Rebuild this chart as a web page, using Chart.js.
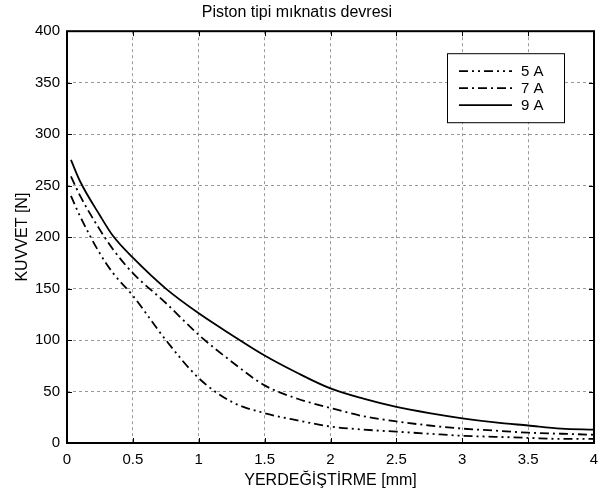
<!DOCTYPE html>
<html>
<head>
<meta charset="utf-8">
<script src="https://cdn.jsdelivr.net/npm/chart.js@4"></script>
<style>
  body { margin: 0; background: #fff; }
  canvas { display: block; }
</style>
</head>
<body>
<canvas id="forceChart" width="614" height="494"></canvas>
<script>
// displacement in mm
const displacement = [0.03, 0.1, 0.25, 0.35, 0.5, 0.75, 1, 1.25, 1.5, 1.75, 2, 2.25, 2.5, 2.75, 3, 3.25, 3.5, 3.75, 4];
// force in N for each current
const force5A = [240, 220, 184, 165, 143, 100, 63, 40, 29, 22, 16, 13, 11, 9, 7, 6, 5, 4, 4];
const force7A = [259, 240, 207, 188, 165, 136, 105, 79, 56, 43, 34, 26, 21, 17, 14, 12, 10, 9, 8];
const force9A = [275, 254, 221, 201, 180, 150, 126, 105, 85, 68, 53, 43, 35, 29, 24, 20, 17, 14, 13];
const seriesLabels = ['5 A', '7 A', '9 A'];

const FONT = 'Arial, "Liberation Sans", sans-serif';

function toPoints(ys) {
    return displacement.map(function(x, i) { return { x: x, y: ys[i] }; });
}

// frame, inward tick marks and a legend box inside the plot
const framePlugin = {
    id: 'frame',
    afterDraw: function(chart) {
        const ctx = chart.ctx;
        const a = chart.chartArea;
        const xs = chart.scales.x;
        const ys = chart.scales.y;
        ctx.save();
        ctx.strokeStyle = '#000';
        ctx.lineWidth = 1;
        xs.ticks.forEach(function(t) {
            const px = Math.round(xs.getPixelForValue(t.value)) + 0.5;
            ctx.beginPath();
            ctx.moveTo(px, a.bottom); ctx.lineTo(px, a.bottom - 5);
            ctx.moveTo(px, a.top); ctx.lineTo(px, a.top + 5);
            ctx.stroke();
        });
        ys.ticks.forEach(function(t) {
            const py = Math.round(ys.getPixelForValue(t.value)) + 0.5;
            ctx.beginPath();
            ctx.moveTo(a.left, py); ctx.lineTo(a.left + 5, py);
            ctx.moveTo(a.right, py); ctx.lineTo(a.right - 5, py);
            ctx.stroke();
        });
        ctx.lineWidth = 2;
        ctx.strokeRect(a.left, a.top, a.right - a.left, a.bottom - a.top);

        // legend
        const bx = a.right - 147, by = a.top + 22, bw = 117, bh = 69;
        ctx.fillStyle = '#fff';
        ctx.fillRect(bx, by, bw, bh);
        ctx.lineWidth = 1;
        ctx.strokeRect(bx + 0.5, by + 0.5, bw, bh);
        ctx.font = '15px ' + FONT;
        ctx.textBaseline = 'middle';
        chart.data.datasets.forEach(function(ds, i) {
            const ry = by + 18 + i * 17;
            ctx.strokeStyle = '#000';
            ctx.lineWidth = ds.borderWidth;
            ctx.setLineDash(ds.borderDash || []);
            ctx.beginPath();
            ctx.moveTo(bx + 12, ry); ctx.lineTo(bx + 65, ry);
            ctx.stroke();
            ctx.setLineDash([]);
            ctx.fillStyle = '#000';
            ctx.fillText(ds.label, bx + 74, ry + 1);
        });
        ctx.restore();
    }
};

new Chart(document.getElementById('forceChart'), {
    type: 'line',
    data: {
        datasets: [{
            label: seriesLabels[0],
            data: toPoints(force5A),
            borderColor: '#000',
            borderWidth: 1.8,
            borderDash: [9, 4, 2, 4, 2, 4],
            pointRadius: 0,
            cubicInterpolationMode: 'monotone'
        }, {
            label: seriesLabels[1],
            data: toPoints(force7A),
            borderColor: '#000',
            borderWidth: 1.8,
            borderDash: [9, 4, 2, 4],
            pointRadius: 0,
            cubicInterpolationMode: 'monotone'
        }, {
            label: seriesLabels[2],
            data: toPoints(force9A),
            borderColor: '#000',
            borderWidth: 1.8,
            pointRadius: 0,
            cubicInterpolationMode: 'monotone'
        }]
    },
    options: {
        responsive: false,
        animation: false,
        layout: { padding: { left: 0, right: 20, top: 0, bottom: 0 } },
        plugins: {
            legend: { display: false },
            tooltip: { enabled: false },
            title: {
                display: true,
                text: 'Piston tipi mıknatıs devresi',
                color: '#000',
                font: { family: FONT, size: 16, weight: 'normal' },
                padding: { top: 3, bottom: 9 }
            }
        },
        scales: {
            x: {
                type: 'linear',
                min: 0,
                max: 4,
                ticks: {
                    stepSize: 0.5,
                    color: '#000',
                    padding: 8,
                    maxRotation: 0,
                    font: { family: FONT, size: 15 },
                    callback: function(value) { return String(value); }
                },
                grid: { color: '#999', drawTicks: false },
                border: { display: false, dash: [3, 3] },
                title: {
                    display: true,
                    text: 'YERDEĞİŞTİRME [mm]',
                    color: '#000',
                    padding: { top: 0, bottom: 4 },
                    font: { family: FONT, size: 16 }
                },
                afterFit: function(s) { s.height = 51; }
            },
            y: {
                min: 0,
                max: 400,
                ticks: {
                    stepSize: 50,
                    color: '#000',
                    padding: 7,
                    font: { family: FONT, size: 15 }
                },
                grid: { color: '#999', drawTicks: false },
                border: { display: false, dash: [3, 3] },
                title: {
                    display: true,
                    text: 'KUVVET [N]',
                    color: '#000',
                    padding: { top: 13, bottom: 0 },
                    font: { family: FONT, size: 16 }
                },
                afterFit: function(s) { s.width = 67; }
            }
        }
    },
    plugins: [framePlugin]
});
</script>
</body>
</html>
